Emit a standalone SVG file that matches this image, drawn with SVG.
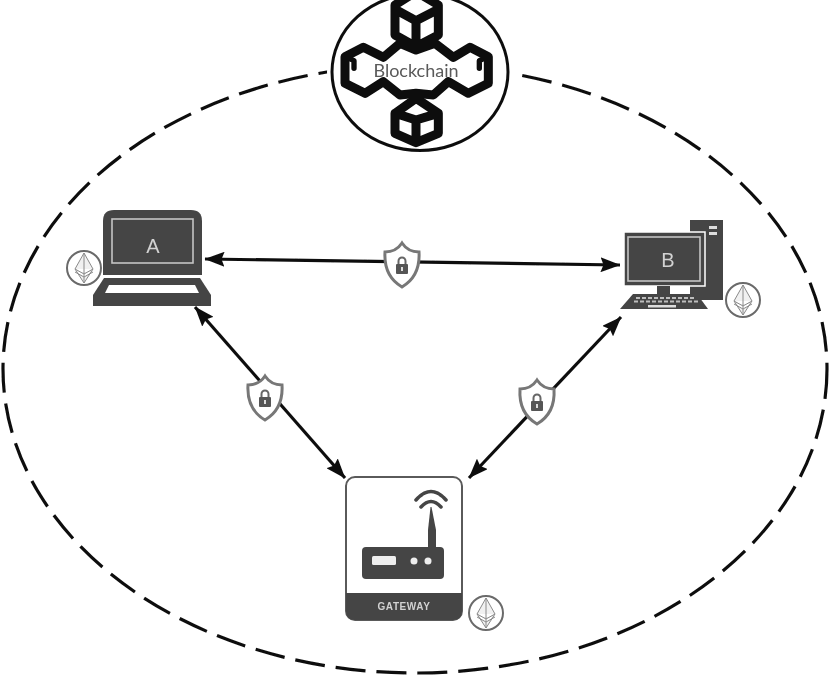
<svg xmlns="http://www.w3.org/2000/svg" xmlns:xlink="http://www.w3.org/1999/xlink" width="829" height="675" viewBox="0 0 829 675">
<style>
.dk{fill:#454545}
.lt{fill:none;stroke:#c4c4c4;stroke-width:1.6}
.conn{fill:none;stroke:#111;stroke-width:3.200;marker-start:url(#ah);marker-end:url(#ah)}
.chain{fill:#fff;stroke:#0c0c0c;stroke-width:27;stroke-linejoin:round;stroke-linecap:round}
.ltxt{font-family:"Liberation Sans",Arial,sans-serif;fill:#d2d2d2;text-anchor:middle}
</style>
<defs>
<filter id="soft" x="-5%" y="-5%" width="110%" height="110%"><feGaussianBlur stdDeviation="0.7"/></filter>
<marker id="ah" viewBox="0 0 20 15" refX="19.5" refY="7.500" markerWidth="20" markerHeight="15" markerUnits="userSpaceOnUse" orient="auto-start-reverse"><path d="M0 0L20 7.500L0 15L3 7.500Z" fill="#111"/></marker>
<g id="eth">
<circle r="17" fill="#fff" stroke="#6a6a6a" stroke-width="2"/>
<path d="M0 -15L9 1L0 15L-9 1Z M-9 1L0 6L9 1 M0 -15V15 M-9 4L0 9L9 4" fill="#e4e4e4" fill-opacity=".5" stroke="#8a8a8a" stroke-width="1"/>
</g>
<g id="shield">
<path d="M0 -22C4 -16 10 -13 17 -13C18 3 12 15 0 22C-12 15 -18 3 -17 -13C-10 -13 -4 -16 0 -22Z" fill="#fff" stroke="#777" stroke-width="3"/>
<path d="M-3.500 -1V-4A3.500 3.500 0 0 1 3.500 -4V-1" fill="none" stroke="#666" stroke-width="2"/>
<rect x="-6" y="-1" width="12" height="10" rx="1" fill="#555"/>
<rect x="-1" y="2" width="2" height="4" fill="#ddd"/>
</g>
</defs>
<rect width="829" height="675" fill="#fff"/>
<g filter="url(#soft)">
<ellipse id="boundary" cx="415" cy="369" rx="412" ry="304" fill="none" stroke="#111" stroke-width="3.200" stroke-dasharray="30 11"/>
<g id="connectors">
<path class="conn" d="M205 259L620 265"/>
<path class="conn" d="M195 307L345 478"/>
<path class="conn" d="M621 317L469 478"/>
</g>
<g id="blockchain">
<ellipse cx="420" cy="72" rx="93" ry="84" fill="#fff"/>
<ellipse cx="420" cy="72" rx="88" ry="78.500" fill="#fff" stroke="#111" stroke-width="3"/>
<g transform="translate(320 0) scale(.33333)">
<path class="chain" d="M75 170L130 142L190 172L240 130L288 150L345 130L400 172L450 142L505 170V250L445 280L385 245L340 285L288 280L240 285L190 245L135 280L75 250Z"/>
<path class="chain" d="M288 -25L355 15V105L288 140L225 105V15Z M225 28L288 62L355 28 M288 62V140"/>
<path class="chain" d="M288 295L355 340V400L288 428L225 400V340Z M225 340L288 360L355 340 M288 360V428"/>
<path class="chain" style="stroke-width:16;fill:none" d="M80 172L102 182V205 M500 172L478 182V205"/>
</g>
<text x="416" y="77" font-family="Lato,'Open Sans',sans-serif" font-size="18" fill="#5a5a5a" text-anchor="middle">Blockchain</text>
</g>
<g id="laptop-a">
<path class="dk" d="M103 221Q103 210 114 210H191Q202 210 202 221V275H103Z"/>
<rect class="lt" x="112" y="219" width="81" height="44"/>
<path class="dk" d="M104 278H200L211 295V306H93V295Z"/>
<path d="M109 285H195L199 293H105Z" fill="#fff"/>
<text class="ltxt" x="153" y="253" font-size="20">A</text>
<use xlink:href="#eth" href="#eth" x="84" y="268"/>
</g>
<g id="desktop-b">
<rect class="dk" x="690" y="220" width="33" height="80"/>
<rect x="709" y="226" width="8" height="3" fill="#ddd"/>
<rect x="709" y="232" width="8" height="3" fill="#ddd"/>
<rect class="dk" x="624" y="232" width="81" height="54" stroke="#fff" stroke-width="1.500"/>
<rect class="lt" x="628" y="237" width="72" height="44"/>
<rect class="dk" x="657" y="286" width="13" height="8"/>
<path class="dk" d="M633 294H697L708 309H620Z"/>
<path d="M636 298H695M634 301.500H698" stroke="#bdbdbd" stroke-width="2" stroke-dasharray="4 2" fill="none"/>
<rect x="648" y="305" width="28" height="2.500" fill="#ddd"/>
<text class="ltxt" x="668" y="267" font-size="20">B</text>
<use xlink:href="#eth" href="#eth" x="743" y="300"/>
</g>
<g id="gateway">
<rect x="346" y="477" width="116" height="143" rx="9" fill="#fff" stroke="#5a5a5a" stroke-width="2"/>
<path class="dk" d="M346 593H462V611Q462 620 453 620H355Q346 620 346 611Z"/>
<text class="ltxt" x="404" y="610" font-size="10" font-weight="700" letter-spacing=".6">GATEWAY</text>
<rect class="dk" x="362" y="547" width="82" height="32" rx="4"/>
<path class="dk" d="M428 548V530L430.500 507H431.500L436 530V548Z"/>
<path d="M416 500Q431 483 446 500M421 507Q431 496 441 507" fill="none" stroke="#454545" stroke-width="3.500" stroke-linecap="round"/>
<rect x="372" y="556" width="24" height="9" rx="1.500" fill="#eee"/>
<circle cx="414" cy="561" r="3.500" fill="#eee"/>
<circle cx="428" cy="561" r="3.500" fill="#eee"/>
<use xlink:href="#eth" href="#eth" x="486" y="613"/>
</g>
<use id="shield-ab" xlink:href="#shield" href="#shield" x="402" y="265"/>
<use id="shield-ag" xlink:href="#shield" href="#shield" x="265" y="398"/>
<use id="shield-bg" xlink:href="#shield" href="#shield" x="537" y="402"/>
</g>
</svg>
